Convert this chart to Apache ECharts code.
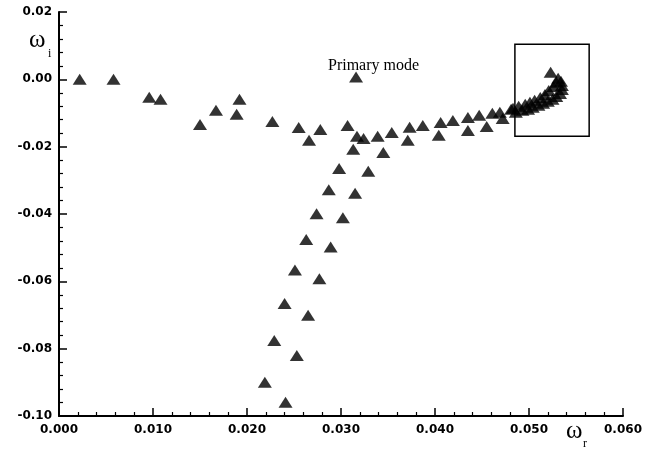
<!DOCTYPE html>
<html>
<head>
<meta charset="utf-8">
<script src="https://cdn.jsdelivr.net/npm/echarts@6/dist/echarts.min.js"></script>
<style>
  html, body { margin: 0; padding: 0; background: #fff; }
  #main { width: 655px; height: 450px; }
</style>
</head>
<body>
<div id="main"></div>
<script>
// omega_r / omega_i pairs
var mainBranch = [
  [0.0022, 0.0000], [0.0058, 0.0000], [0.0096, -0.0053], [0.0108, -0.0059],
  [0.0150, -0.0134], [0.0167, -0.0092], [0.0189, -0.0104], [0.0192, -0.0059],
  [0.0227, -0.0125], [0.0255, -0.0143], [0.0266, -0.0181], [0.0278, -0.0149],
  [0.0307, -0.0137], [0.0317, -0.0169], [0.0324, -0.0176], [0.0339, -0.0169],
  [0.0354, -0.0158], [0.0371, -0.0181], [0.0373, -0.0142], [0.0387, -0.0137],
  [0.0404, -0.0166], [0.0406, -0.0128], [0.0419, -0.0122], [0.0435, -0.0152],
  [0.0435, -0.0113], [0.0447, -0.0107], [0.0455, -0.0140], [0.0461, -0.0101],
  [0.0469, -0.0098], [0.0472, -0.0116], [0.0481, -0.0089]
]
var primaryPoint = [[0.0316, 0.0007]]
var leftBranch = [
  [0.0313, -0.0208], [0.0298, -0.0265], [0.0287, -0.0328], [0.0274, -0.0399],
  [0.0263, -0.0476], [0.0251, -0.0566], [0.0240, -0.0666], [0.0229, -0.0776],
  [0.0219, -0.0900], [0.0241, -0.0959]
]
var rightBranch = [
  [0.0345, -0.0217], [0.0329, -0.0273], [0.0315, -0.0338], [0.0302, -0.0411],
  [0.0289, -0.0498], [0.0277, -0.0592], [0.0265, -0.0701], [0.0253, -0.0820]
]
var cluster = [
  [0.0483, -0.0086], [0.0489, -0.0080], [0.0496, -0.0074], [0.0501, -0.0068],
  [0.0506, -0.0062], [0.0512, -0.0054], [0.0517, -0.0045], [0.0521, -0.0033],
  [0.0526, -0.0021], [0.0529, -0.0009], [0.0531, 0.0003],
  [0.0486, -0.0098], [0.0493, -0.0092], [0.0499, -0.0089], [0.0504, -0.0083],
  [0.0510, -0.0077], [0.0515, -0.0071], [0.0520, -0.0065], [0.0525, -0.0059],
  [0.0529, -0.0051], [0.0533, -0.0042], [0.0535, -0.0030], [0.0535, -0.0018],
  [0.0534, -0.0006], [0.0523, 0.0021]
]
// zoom box corners [omega_r, omega_i]
var boxCorners = [[0.0485, 0.0104], [0.0564, -0.0169]]

var allPoints = mainBranch.concat(primaryPoint, leftBranch, rightBranch, cluster)

var chart = echarts.init(document.getElementById('main'))

var labelFont = {
  color: '#000',
  fontFamily: 'DejaVu Sans',
  fontWeight: 'bold',
  fontSize: 12
}

var option = {
  backgroundColor: '#fff',
  animation: false,
  grid: {
    left: 59,
    right: 32,
    top: 12,
    bottom: 34
  },
  xAxis: {
    type: 'value',
    min: 0,
    max: 0.06,
    interval: 0.01,
    axisLine: { onZero: false, lineStyle: { color: '#000', width: 2 } },
    axisTick: { inside: true, length: 8, lineStyle: { color: '#000', width: 1.5 } },
    minorTick: { show: true, splitNumber: 5, length: 4, lineStyle: { color: '#000', width: 1.2 } },
    splitLine: { show: false },
    axisLabel: Object.assign({
      margin: 8,
      formatter: function (v) { return v.toFixed(3) }
    }, labelFont)
  },
  yAxis: {
    type: 'value',
    min: -0.10,
    max: 0.02,
    interval: 0.02,
    axisLine: { show: true, onZero: false, lineStyle: { color: '#000', width: 2 } },
    axisTick: { show: true, inside: true, length: 8, lineStyle: { color: '#000', width: 1.5 } },
    minorTick: { show: true, splitNumber: 5, length: 4, lineStyle: { color: '#000', width: 1.2 } },
    splitLine: { show: false },
    axisLabel: Object.assign({
      margin: 7,
      formatter: function (v) { return v.toFixed(2) }
    }, labelFont)
  },
  graphic: [
    {
      type: 'text', left: 29, top: 28,
      style: { text: 'ω', font: '25px "Liberation Serif"', fill: '#000' }
    },
    {
      type: 'text', left: 48, top: 48,
      style: { text: 'i', font: '12px "Liberation Serif"', fill: '#000' }
    },
    {
      type: 'text', left: 566, top: 419,
      style: { text: 'ω', font: '25px "Liberation Serif"', fill: '#000' }
    },
    {
      type: 'text', left: 583, top: 438,
      style: { text: 'r', font: '12px "Liberation Serif"', fill: '#000' }
    },
    {
      type: 'text', left: 328, top: 58,
      style: { text: 'Primary mode', font: '16px "Liberation Serif"', fill: '#000' }
    }
  ],
  series: [
    {
      type: 'scatter',
      symbol: 'triangle',
      symbolSize: [14, 11],
      itemStyle: { color: '#000' },
      data: allPoints,
      markArea: {
        silent: true,
        itemStyle: { color: 'rgba(0,0,0,0)', borderColor: '#000', borderWidth: 1.5 },
        data: [[{ coord: boxCorners[0] }, { coord: boxCorners[1] }]]
      }
    }
  ]
}

chart.setOption(option)
</script>
</body>
</html>
